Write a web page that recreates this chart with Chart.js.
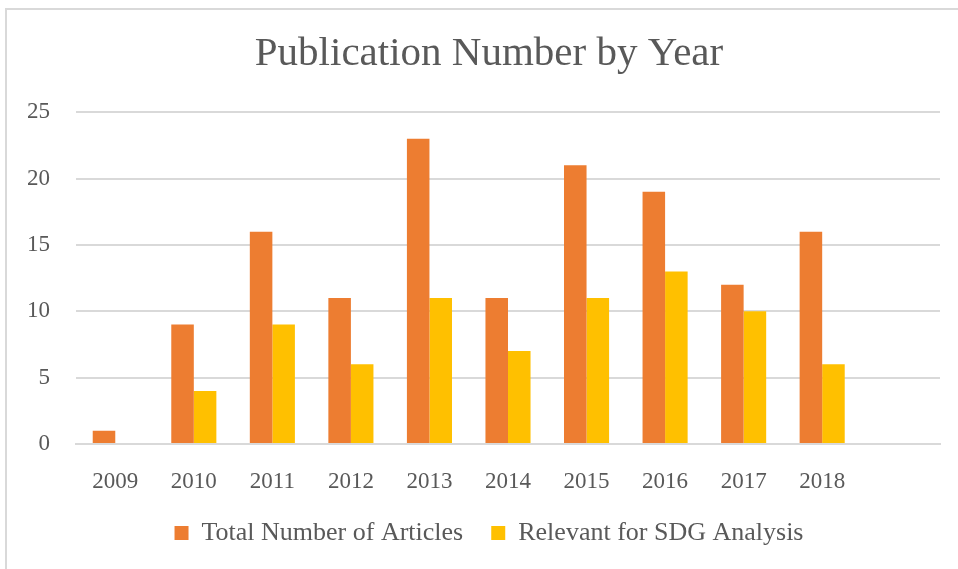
<!DOCTYPE html>
<html>
<head>
<meta charset="utf-8">
<script src="https://cdn.jsdelivr.net/npm/chart.js@4"></script>
<style>
  html, body { margin: 0; padding: 0; background: #fff; }
  #wrap { position: relative; width: 958px; height: 569px; overflow: hidden; }
  #frame { position: absolute; left: 5px; top: 8px; width: 1000px; height: 1000px;
           border: 2px solid #d9d9d9; box-sizing: border-box; }
  canvas { position: absolute; left: 0; top: 0; }
</style>
</head>
<body>
<div id="wrap">
  <div id="frame"></div>
  <canvas id="chart" width="958" height="569"></canvas>
</div>
<script>
// Years on the x axis (the last slot is empty, as in the original)
const years = ['2009', '2010', '2011', '2012', '2013', '2014', '2015', '2016', '2017', '2018', '']
const totalArticles = [1, 9, 16, 11, 23, 11, 21, 19, 12, 16]
const relevantSdg = [0, 4, 9, 6, 11, 7, 11, 13, 10, 6]
const yTicks = [0, 5, 10, 15, 20, 25]

const textColor = '#595959'
const gridColor = '#d9d9d9'
const fontFamily = '"Palatino Linotype", "Book Antiqua", Palatino, "Liberation Serif", serif'

const config = {
  type: 'bar',
  data: {
    labels: years,
    datasets: [
      {
        label: 'Total Number of Articles',
        data: totalArticles,
        backgroundColor: '#ED7D31'
      },
      {
        label: 'Relevant for SDG Analysis',
        data: relevantSdg,
        backgroundColor: '#FFC000'
      }
    ]
  },
  options: {
    responsive: false,
    animation: false,
    layout: {
      padding: { left: 26, right: 6, top: 8, bottom: 13 }
    },
    datasets: {
      bar: {
        categoryPercentage: 0.574,
        barPercentage: 1.0
      }
    },
    plugins: {
      title: {
        display: true,
        text: 'Publication Number by Year',
        color: textColor,
        font: { family: fontFamily, size: 41, weight: 'normal' },
        padding: { top: 22, bottom: 33 }
      },
      legend: {
        position: 'bottom',
        labels: {
          color: textColor,
          font: { family: fontFamily, size: 26 },
          boxWidth: 14,
          boxHeight: 14,
          padding: 28
        }
      },
      tooltip: { enabled: false }
    },
    scales: {
      x: {
        grid: { display: false, drawTicks: false },
        border: { color: gridColor, width: 2 },
        ticks: {
          color: textColor,
          font: { family: fontFamily, size: 23 },
          padding: 24,
          maxRotation: 0
        },
        // labels only need the top part of the default band
        afterFit: (axis) => { axis.height = 48 }
      },
      y: {
        min: 0,
        max: 25,
        afterBuildTicks: (axis) => {
          axis.ticks = yTicks.map(v => ({ value: v }))
        },
        grid: { color: gridColor, lineWidth: 2, drawTicks: false },
        border: { display: false },
        ticks: {
          color: textColor,
          font: { family: fontFamily, size: 23 },
          padding: 26
        },
        afterFit: (axis) => { axis.width = 50 }
      },
      // empty spacer on the right so title and legend sit a little right of the plot centre
      yRight: {
        position: 'right',
        grid: { display: false, drawTicks: false },
        border: { display: false },
        ticks: { display: false },
        afterFit: (axis) => { axis.width = 12 }
      }
    }
  }
}

new Chart(document.getElementById('chart'), config)
</script>
</body>
</html>
